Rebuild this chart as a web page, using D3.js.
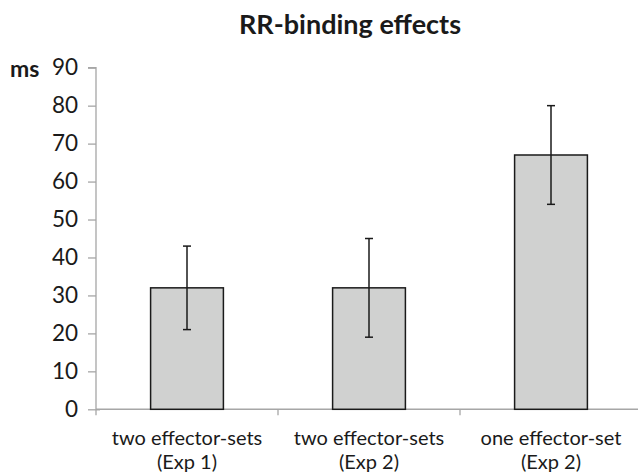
<!DOCTYPE html>
<html><head><meta charset="utf-8">
<script src="https://cdn.jsdelivr.net/npm/d3@7/dist/d3.min.js"></script>
<style>html,body{margin:0;padding:0;background:#fff;} svg{display:block;}</style>
</head><body>
<svg id="chart" width="638" height="473"></svg>
<script>
const categories = [["two effector-sets","(Exp 1)"],["two effector-sets","(Exp 2)"],["one effector-set","(Exp 2)"]];
const values = [32, 32, 67];
const errLow = [21, 19, 54];
const errHigh = [43, 45, 80];
const yTicks = [0,10,20,30,40,50,60,70,80,90];
const title = "RR-binding effects";
const yUnit = "ms";

const FONT = "Lato, 'Open Sans', sans-serif";
const svg = d3.select("#chart");
const x = d3.scaleBand().domain(d3.range(categories.length)).range([96, 642]).paddingInner(0.6).paddingOuter(0.3);
const xEdges = d3.scaleLinear().domain([0, categories.length]).range([96, 642]);
const y = d3.scaleLinear().domain([0, 90]).range([409.3, 67.7]);

// title
svg.append("text").attr("x", 350).attr("y", 34).attr("text-anchor","middle")
  .attr("font-family", FONT).attr("font-weight","bold").attr("font-size", 27).attr("fill","#1a1a1a").text(title);
svg.append("text").attr("x", 10).attr("y", 77)
  .attr("font-family", FONT).attr("font-weight","bold").attr("font-size", 23).attr("fill","#1a1a1a").text(yUnit);

// y axis
const yAxis = d3.axisLeft(y).tickValues(yTicks).tickSize(8).tickPadding(10);
const gy = svg.append("g").attr("transform","translate(96,0)").call(yAxis);
gy.select(".domain").attr("stroke","#a6a6a6").attr("stroke-width",1.3).attr("d","M-8,67.7H0V409.3");
gy.selectAll(".tick line").attr("stroke","#a6a6a6").attr("stroke-width",1.3);
gy.selectAll(".tick text").attr("font-family",FONT).attr("font-size",22.5).attr("fill","#1a1a1a");
gy.selectAll(".tick").filter(d=>d===0).select("line").attr("x2",4).attr("x1",-8);

// x axis
const gx = svg.append("g").attr("transform",`translate(0,${y(0)})`);
gx.append("line").attr("x1",96).attr("x2",642).attr("stroke","#a6a6a6").attr("stroke-width",1.5);
gx.selectAll("line.tk").data(d3.range(categories.length+1)).join("line").attr("class","tk")
  .attr("x1",d=>xEdges(d)).attr("x2",d=>xEdges(d)).attr("y1",0).attr("y2",6)
  .attr("stroke","#a6a6a6").attr("stroke-width",1.3);
const lab = svg.append("g").selectAll("text").data(categories).join("text")
  .attr("text-anchor","middle").attr("font-family",FONT).attr("font-size",20).attr("fill","#1a1a1a");
lab.append("tspan").attr("x",(d,i)=>x(i)+x.bandwidth()/2).attr("y",445).text(d=>d[0]);
lab.append("tspan").attr("x",(d,i)=>x(i)+x.bandwidth()/2).attr("y",469).text(d=>d[1]);

// bars
svg.append("g").selectAll("rect").data(values).join("rect")
  .attr("x",(d,i)=>x(i)).attr("width",x.bandwidth())
  .attr("y",d=>y(d)).attr("height",d=>y(0)-y(d))
  .attr("fill","#d0d1d0").attr("stroke","#1a1a1a").attr("stroke-width",1.5);

// error bars
const eg = svg.append("g").attr("stroke","#1a1a1a").attr("stroke-width",1.5);
values.forEach((v,i)=>{
  const cx = x(i)+x.bandwidth()/2;
  eg.append("line").attr("x1",cx).attr("x2",cx).attr("y1",y(errLow[i])).attr("y2",y(errHigh[i]));
  eg.append("line").attr("x1",cx-4).attr("x2",cx+4).attr("y1",y(errLow[i])).attr("y2",y(errLow[i]));
  eg.append("line").attr("x1",cx-4).attr("x2",cx+4).attr("y1",y(errHigh[i])).attr("y2",y(errHigh[i]));
});
</script>
</body></html>
